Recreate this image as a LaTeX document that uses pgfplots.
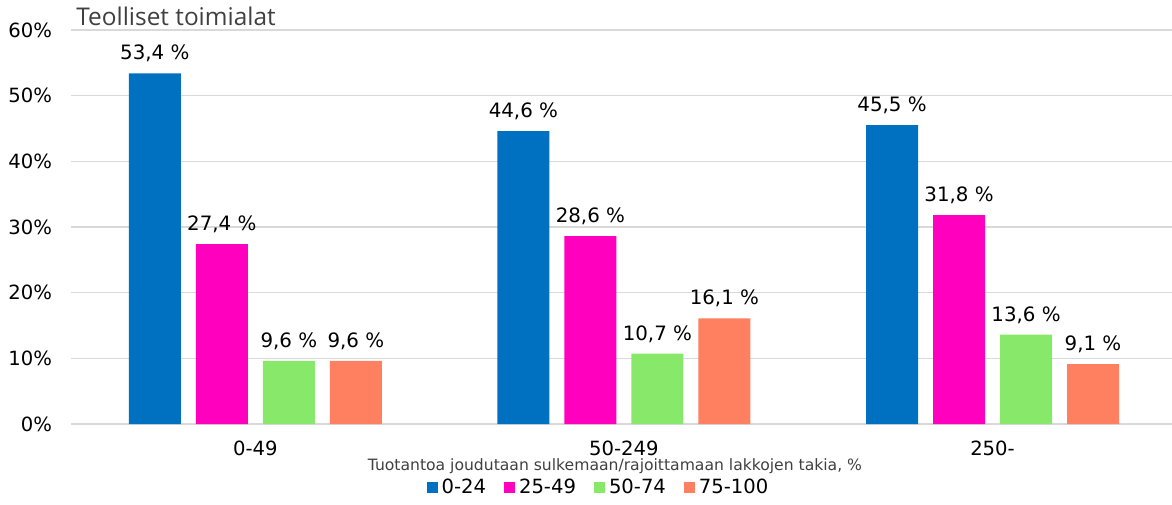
\documentclass[border=0pt]{standalone}
\usepackage{fontspec}
\setmainfont{DejaVu Sans}
\newfontfamily\titlefont{Open Sans}
\usepackage{pgfplots}
\pgfplotsset{compat=1.18}
\definecolor{cBlue}{HTML}{0070C0}
\definecolor{cMag}{HTML}{FF00BF}
\definecolor{cGreen}{HTML}{88E86A}
\definecolor{cOrange}{HTML}{FF8060}
\definecolor{gridc}{HTML}{D9D9D9}
\definecolor{txtgray}{HTML}{404040}
\begin{document}
\begin{tikzpicture}
\useasboundingbox (0,0) rectangle (586pt,252pt);
\node[anchor=base west, inner sep=0pt, font=\titlefont\fontsize{12.2}{14}\selectfont, text=txtgray] at (38pt,239pt) {Teolliset toimialat};
\begin{axis}[
  at={(35.5pt,40pt)}, anchor=south west,
  scale only axis, width=550.5pt, height=197pt,
  ybar=7.5pt, bar width=26pt,
  xmin=-0.5, xmax=2.487, ymin=0, ymax=60,
  xtick={0,1,2}, xticklabels={0-49,50-249,250-},
  ytick={0,10,...,60},
  yticklabel={\pgfmathprintnumber{\tick}\%},
  /pgf/number format/assume math mode=true,
  ymajorgrids, grid style={gridc, line width=0.6pt},
  axis line style={draw=none},
  major tick length=0pt,
  tick label style={font=\fontsize{9.8}{11}\selectfont, black},
  xticklabel style={yshift=-5pt},
  yticklabel style={xshift=-6pt},
  nodes near coords={\pgfmathprintnumber[fixed,fixed zerofill,precision=1,use comma]{\pgfplotspointmeta}~\%},
  nodes near coords style={font=\fontsize{9.9}{11}\selectfont, black, yshift=2pt},
  legend columns=4,
  legend style={draw=none, fill=none, at={(0.48,-0.162)}, anchor=center,
    font=\fontsize{9.8}{11}\selectfont,
    /tikz/every even column/.append style={column sep=7pt}},
  legend image code/.code={\fill[#1] (0pt,-2.75pt) rectangle (5.5pt,2.75pt);},
  clip=false,
]
\addplot[fill=cBlue, draw=none] coordinates {(0,53.4) (1,44.6) (2,45.5)};
\addplot[fill=cMag, draw=none] coordinates {(0,27.4) (1,28.6) (2,31.8)};
\addplot[fill=cGreen, draw=none] coordinates {(0,9.6) (1,10.7) (2,13.6)};
\addplot[fill=cOrange, draw=none] coordinates {(0,9.6) (1,16.1) (2,9.1)};
\legend{0-24,25-49,50-74,75-100}
\node[font=\fontsize{7.8}{10}\selectfont, text=txtgray, anchor=center] at (axis description cs:0.494,-0.107) {Tuotantoa joudutaan sulkemaan/rajoittamaan lakkojen takia, \%};
\end{axis}
\end{tikzpicture}
\end{document}
